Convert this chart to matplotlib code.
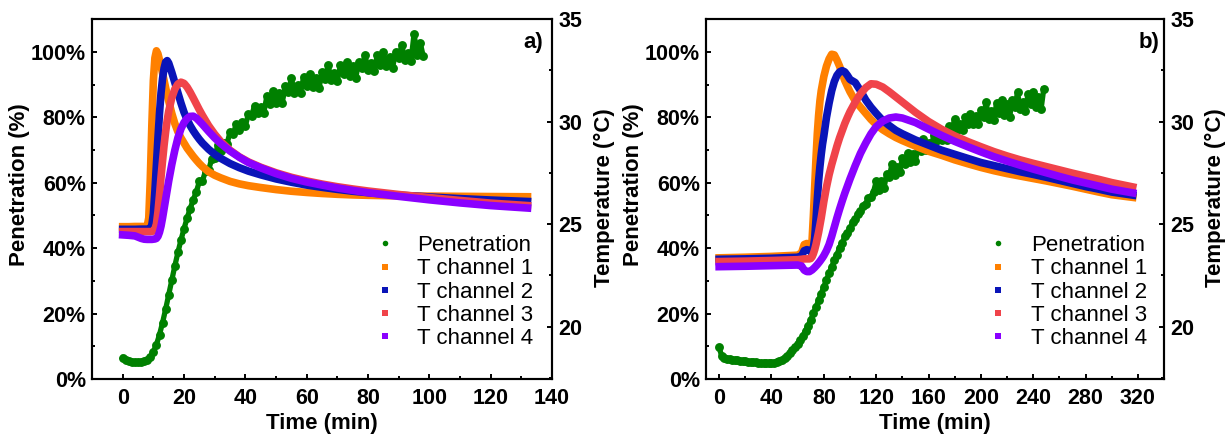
import matplotlib
matplotlib.use('Agg')
import matplotlib.pyplot as plt
from matplotlib.lines import Line2D
from matplotlib.ticker import MultipleLocator, FuncFormatter

plt.rcParams['font.family'] = ['Liberation Sans', 'DejaVu Sans']
plt.rcParams['font.weight'] = 'bold'
plt.rcParams['axes.labelweight'] = 'bold'

GREEN = '#008000'
T_COLORS = ['#FF8000', '#0A14B8', '#F0434A', '#8A00FF']
T_LABELS = ['T channel 1', 'T channel 2', 'T channel 3', 'T channel 4']

# ---------------- panel a) ----------------
pen_a_time = list(range(0, 99))
pen_a = [6.5, 5.9, 5.6, 5.4, 5.3, 5.3, 5.4, 5.6, 6.0, 6.9,
         8.4, 10.6, 13.6, 17.3, 21.4, 25.8, 30.2, 34.6, 38.7, 42.5,
         46.0, 49.2, 52.1, 54.8, 57.2, 60.4, 60.6, 63.5, 63.8, 67.2,
         67.7, 71.4, 69.8, 72.1, 71.8, 75.5, 74.8, 77.8, 76.2, 78.7,
         77.4, 81.0, 80.4, 83.5, 81.3, 83.2, 81.3, 86.4, 84.1, 88.1,
         84.3, 87.4, 84.3, 89.4, 87.7, 91.9, 87.5, 89.7, 87.5, 92.3,
         89.6, 93.3, 89.2, 92.1, 88.8, 93.7, 91.8, 95.9, 91.4, 93.5,
         91.2, 95.9, 93.1, 96.8, 92.6, 95.5, 92.1, 97.0, 95.0, 99.1,
         94.5, 96.6, 94.2, 98.9, 96.1, 99.8, 95.6, 98.5, 95.1, 100.0,
         98.0, 102.1, 97.5, 99.6, 97.2, 105.5, 99.1, 102.8, 98.6]

t_a = [0, 2, 4, 6, 7, 8, 8.5, 9, 9.5, 10, 10.5, 11, 11.5, 12, 12.5, 13, 13.5,
       14, 14.5, 15, 16, 17, 18, 19, 20, 21, 22, 23, 24, 25, 26, 28, 30, 32,
       35, 38, 41, 45, 50, 55, 60, 65, 70, 75, 80, 90, 100, 110, 120, 132]
ch1_a = [24.87, 24.87, 24.88, 24.88, 24.88, 24.9, 25.3, 27.2, 29.8, 32.0, 33.1,
         33.45, 33.3, 33.0, 32.7, 32.35, 32.0, 31.65, 31.3, 31.0, 30.4, 29.9,
         29.5, 29.2, 28.95, 28.7, 28.5, 28.3, 28.12, 27.95, 27.8, 27.55, 27.38,
         27.25, 27.08, 26.96, 26.87, 26.78, 26.68, 26.6, 26.54, 26.49, 26.45,
         26.42, 26.4, 26.37, 26.36, 26.35, 26.34, 26.33]
ch2_a = [24.74, 24.74, 24.74, 24.75, 24.75, 24.75, 24.76, 24.8, 24.95, 25.5,
         26.6, 27.9, 29.2, 30.4, 31.4, 32.1, 32.6, 32.9, 32.97, 32.85, 32.4,
         31.9, 31.4, 30.9, 30.45, 30.1, 29.8, 29.55, 29.33, 29.13, 28.95, 28.65,
         28.4, 28.2, 27.95, 27.75, 27.58, 27.4, 27.2, 27.04, 26.9, 26.79, 26.69,
         26.6, 26.53, 26.41, 26.32, 26.24, 26.17, 26.1]
ch3_a = [24.63, 24.63, 24.63, 24.63, 24.63, 24.63, 24.63, 24.63, 24.64, 24.66,
         24.75, 25.0, 25.6, 26.4, 27.3, 28.1, 28.85, 29.5, 30.05, 30.5, 31.15,
         31.58, 31.83, 31.92, 31.86, 31.68, 31.43, 31.15, 30.86, 30.57, 30.3,
         29.8, 29.38, 29.02, 28.6, 28.28, 28.03, 27.77, 27.5, 27.28, 27.1, 26.95,
         26.82, 26.71, 26.61, 26.44, 26.29, 26.15, 26.02, 25.9]
ch4_a = [24.47, 24.45, 24.42, 24.3, 24.26, 24.25, 24.25, 24.25, 24.25, 24.26,
         24.27, 24.3, 24.4, 24.6, 24.9, 25.3, 25.75, 26.2, 26.65, 27.1, 27.9,
         28.6, 29.2, 29.65, 29.95, 30.15, 30.25, 30.26, 30.17, 30.02, 29.86,
         29.52, 29.2, 28.92, 28.56, 28.26, 28.0, 27.74, 27.46, 27.23, 27.05,
         26.9, 26.76, 26.64, 26.53, 26.35, 26.18, 26.03, 25.9, 25.78]

# ---------------- panel b) ----------------
pen_b_time = list(range(0, 250, 2))
pen_b = [9.7, 7.0, 6.5, 6.2, 6.1, 5.9, 5.8, 5.8, 5.6, 5.6,
         5.5, 5.4, 5.3, 5.3, 5.2, 5.1, 5.1, 5.0, 5.0, 5.0,
         5.0, 5.1, 5.2, 5.5, 5.9, 6.4, 7.1, 7.9, 8.8, 9.8,
         10.8, 12.0, 13.3, 14.8, 16.4, 18.2, 20.1, 22.0, 24.1, 26.1,
         28.3, 30.2, 32.5, 34.2, 36.5, 38.0, 40.2, 41.5, 43.6, 44.6,
         46.1, 47.9, 48.8, 50.6, 51.3, 53.0, 53.6, 55.2, 55.7, 57.3,
         60.4, 57.7, 60.5, 58.4, 62.8, 61.8, 65.6, 62.5, 64.7, 63.4,
         67.6, 65.8, 69.1, 66.2, 68.9, 66.6, 70.9, 69.7, 73.4, 70.1,
         72.2, 70.6, 74.6, 72.7, 75.9, 72.9, 75.5, 73.1, 77.3, 76.0,
         79.6, 76.1, 77.9, 76.1, 80.0, 78.0, 81.0, 77.9, 80.3, 77.8,
         82.3, 80.1, 84.6, 79.6, 81.8, 79.3, 84.4, 81.4, 85.4, 80.8,
         84.0, 80.2, 85.4, 83.2, 87.6, 82.5, 84.7, 82.0, 87.0, 83.9,
         87.8, 83.2, 86.2, 82.5, 88.6]

t_b = [0, 20, 40, 60, 63, 65, 67, 69, 70, 71, 72, 73, 74, 75, 76, 77, 78, 79,
       80, 82, 84, 86, 88, 90, 92, 94, 96, 98, 100, 104, 108, 112, 116, 120,
       125, 130, 135, 140, 150, 160, 170, 180, 190, 200, 210, 220, 230, 240,
       250, 260, 270, 280, 290, 300, 316]
ch1_b = [23.35, 23.38, 23.42, 23.48, 23.6, 24.0, 24.05, 23.75, 23.65, 24.2,
         25.4, 26.8, 28.2, 29.4, 30.3, 31.0, 31.5, 31.85, 32.2, 32.7, 33.05,
         33.28, 33.25, 33.0, 32.7, 32.35, 32.0, 31.72, 31.45, 31.0, 30.7, 30.4,
         30.1, 29.85, 29.6, 29.4, 29.22, 29.07, 28.8, 28.55, 28.35, 28.13,
         27.94, 27.76, 27.6, 27.46, 27.34, 27.22, 27.1, 26.97, 26.84, 26.7,
         26.56, 26.43, 26.3]
ch2_b = [23.28, 23.3, 23.33, 23.38, 23.45, 23.7, 23.75, 23.7, 23.65, 23.7,
         23.85, 24.3, 25.2, 26.2, 27.1, 27.8, 28.4, 28.9, 29.3, 30.2, 30.9,
         31.5, 31.95, 32.25, 32.42, 32.48, 32.42, 32.25, 32.05, 31.9, 31.5,
         31.05, 30.7, 30.4, 30.05, 29.8, 29.57, 29.4, 29.1, 28.85, 28.6, 28.4,
         28.2, 28.0, 27.85, 27.7, 27.55, 27.42, 27.28, 27.13, 26.98, 26.83,
         26.7, 26.56, 26.41]
ch3_b = [23.17, 23.19, 23.22, 23.26, 23.28, 23.3, 23.3, 23.3, 23.32, 23.4,
         23.55, 23.75, 24.0, 24.3, 24.6, 24.95, 25.3, 25.7, 26.1, 26.8, 27.4,
         27.9, 28.35, 28.8, 29.2, 29.55, 29.9, 30.2, 30.48, 30.95, 31.35, 31.65,
         31.84, 31.82, 31.68, 31.45, 31.2, 30.95, 30.45, 30.0, 29.62, 29.3,
         29.02, 28.77, 28.53, 28.32, 28.13, 27.96, 27.8, 27.64, 27.48, 27.33,
         27.18, 27.02, 26.81]
ch4_b = [22.92, 22.94, 22.97, 23.0, 22.95, 22.75, 22.68, 22.68, 22.72, 22.76,
         22.82, 22.88, 22.95, 23.02, 23.1, 23.18, 23.27, 23.36, 23.46, 23.7,
         24.0, 24.4, 24.85, 25.3, 25.72, 26.12, 26.5, 26.85, 27.2, 27.85, 28.45,
         28.95, 29.4, 29.75, 30.02, 30.17, 30.22, 30.17, 29.95, 29.63, 29.32,
         29.03, 28.77, 28.52, 28.28, 28.07, 27.87, 27.68, 27.5, 27.32, 27.15,
         27.0, 26.85, 26.7, 26.52]

pct = FuncFormatter(lambda v, p: '{:.0f}%'.format(v))


def draw_panel(fig, rect, pen_t, pen_v, t, chans, xlim, xmaj, tag, tag_x, leg_x):
    ax = fig.add_axes(rect)
    ax2 = ax.twinx()

    # dense scatter look: points joined by a zigzag of the same colour
    ax.plot(pen_t, pen_v, '-o', color=GREEN, lw=3.8, ms=6.4, mew=0)
    for vals, col in zip(chans, T_COLORS):
        ax2.plot(t, vals, '-', color=col, lw=5.5, solid_joinstyle='round')

    ax.set_xlim(*xlim)
    ax.set_ylim(0, 110)
    ax2.set_ylim(17.43, 35)

    ax.xaxis.set_major_locator(MultipleLocator(xmaj))
    ax.xaxis.set_minor_locator(MultipleLocator(xmaj / 2))
    ax.yaxis.set_major_locator(MultipleLocator(20))
    ax.yaxis.set_minor_locator(MultipleLocator(10))
    ax.yaxis.set_major_formatter(pct)
    ax2.yaxis.set_major_locator(MultipleLocator(5))
    ax2.yaxis.set_minor_locator(MultipleLocator(2.5))

    for a in (ax, ax2):
        for s in a.spines.values():
            s.set_linewidth(1.5)
        a.tick_params(which='both', direction='in', width=1.4, labelsize=15.5)
        a.tick_params(which='major', length=3.6)
        a.tick_params(which='minor', length=2)
    ax.tick_params(axis='x', pad=6)
    ax.tick_params(axis='y', pad=4.5)
    ax2.tick_params(axis='y', pad=4.5)

    ax.set_xlabel('Time (min)', fontsize=16)
    ax.set_ylabel('Penetration (%)', fontsize=16)
    ax2.set_ylabel('Temperature (°C)', fontsize=16)
    ax.xaxis.set_label_coords(0.5, -0.095)
    ax.yaxis.set_label_coords(-0.135, 0.54)
    ax2.yaxis.set_label_coords(1.09, 0.505)

    ax.text(tag_x, 0.936, tag, transform=ax.transAxes, ha='right', va='center',
            fontsize=16, fontweight='bold')

    handles = [Line2D([], [], ls='none', marker='o', ms=4, mew=0, color=GREEN)]
    handles += [Line2D([], [], ls='none', marker='s', ms=4, mew=0, color=c) for c in T_COLORS]
    ax2.legend(handles, ['Penetration'] + T_LABELS, loc='upper left',
               bbox_to_anchor=(leg_x, 0.40), frameon=False,
               prop={'size': 16, 'weight': 'normal'}, handlelength=1.0,
               handletextpad=0.95, labelspacing=0.1, borderpad=0, borderaxespad=0)
    return ax, ax2


fig = plt.figure(figsize=(12.32, 4.38), dpi=100)
draw_panel(fig, [0.0747, 0.1342, 0.3734, 0.8224], pen_a_time, pen_a, t_a,
           [ch1_a, ch2_a, ch3_a, ch4_a], (-10, 140), 20, 'a)', 0.98, 0.613)
draw_panel(fig, [0.5731, 0.1342, 0.3718, 0.8224], pen_b_time, pen_b, t_b,
           [ch1_b, ch2_b, ch3_b, ch4_b], (-10, 340), 40, 'b)', 0.99, 0.614)

fig.savefig('out.png', dpi=100)
